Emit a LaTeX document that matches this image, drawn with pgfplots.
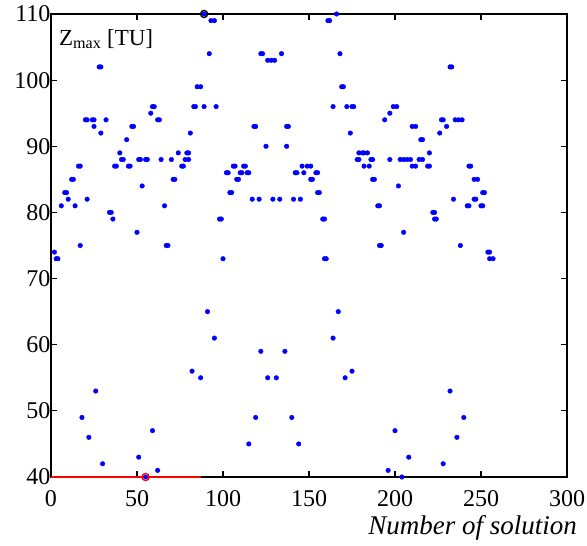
\documentclass[border=0pt]{standalone}
\usepackage{fontspec}
\setmainfont{Liberation Serif}
\usepackage{pgfplots}
\pgfplotsset{compat=1.18}
\begin{document}
\begin{tikzpicture}
\begin{axis}[name=ax, scale only axis, width=516pt, height=463pt,
  xmin=0, xmax=300, ymin=40, ymax=110,
  xtick={0,50,...,300}, ytick={40,50,...,110},
  tick align=inside, major tick length=6pt,
  axis line style={line width=1.6pt},
  every tick/.style={black, line width=1.2pt},
  ticklabel style={font=\rmfamily\fontsize{24}{26}\selectfont},
  /pgf/number format/assume math mode=true,
  xticklabel style={yshift=-10pt},
  yticklabel style={xshift=3pt},
  clip=false]
\addplot[only marks, mark=*, mark size=2.3pt, color=blue, mark options={draw=blue, fill=blue}] coordinates {
(2,74)(3,73)(4,73)
(6,81)(8,83)(9,83)(10,82)(12,85)(13,85)(14,81)
(16,87)(17,87)(17,75)
(20,94)(21,94)(21,82)
(24,94)(25,94)(25,93)
(28,102)(29,102)(29,92)
(32,94)
(34,80)(35,80)(36,79)
(37,87)(38,87)
(40,89)
(41,88)(42,88)
(44,91)
(45,87)(46,87)
(47,93)(48,93)
(50,77)
(51,88)(52,88)
(53,84)
(55,88)(56,88)
(58,95)
(59,96)(60,96)
(62,94)(63,94)
(64,88)
(66,81)
(67,75)(68,75)
(70,88)
(71,85)(72,85)
(74,89)
(76,87)(77,87)(78,88)
(79,89)(80,89)
(80,88)(81,92)
(82,56)(83,96)(84,96)
(85,99)(87,99)
(87,55)
(89,96)
(89,110)
(91,65)
(92,104)
(93,109)(95,109)
(95,61)
(96,96)
(98,79)(99,79)
(100,73)
(102,86)(103,86)
(104,83)(105,83)
(106,87)(107,87)
(108,85)(109,85)
(110,86)(111,86)
(112,87)(113,87)
(114,86)(115,86)
(115,45)
(117,82)
(118,93)(119,93)
(119,49)
(121,82)
(122,104)(123,104)
(122,59)
(125,90)
(126,103)(128,103)(130,103)
(126,55)(131,55)
(129,82)(133,82)
(134,104)
(136,59)
(137,90)
(137,93)(138,93)
(140,49)
(141,82)(145,82)
(142,86)(143,86)
(144,45)
(146,87)(149,87)(151,87)
(147,86)
(151,85)(152,85)
(154,86)(155,86)
(155,83)(156,83)
(158,79)(159,79)
(159,73)(160,73)
(161,109)(162,109)
(164,61)
(164,96)
(166,110)
(167,65)
(168,104)
(169,99)(170,99)
(171,55)
(172,96)
(174,92)
(175,96)(176,96)
(175,56)
(178,88)(179,88)
(179,89)(181,89)(182,89)(184,89)
(182,87)(185,87)
(186,88)(187,88)
(187,85)(188,85)
(190,81)(191,81)
(191,75)(192,75)
(194,94)
(196,41)
(197,95)
(197,88)
(199,96)(201,96)
(200,47)
(202,84)
(203,88)(205,88)(207,88)(209,88)
(204,40)
(205,77)
(208,43)
(210,93)(212,93)
(210,87)(212,87)
(214,88)(216,88)
(215,91)(216,91)
(219,87)(220,87)
(220,89)
(222,80)(223,80)
(223,79)(224,79)
(226,92)
(227,94)(228,94)
(228,42)
(230,93)
(232,102)(233,102)
(232,53)
(234,82)
(235,94)(237,94)(239,94)
(236,46)
(238,75)
(240,49)
(242,81)(243,81)
(243,87)(244,87)
(246,85)(248,85)
(246,82)(247,82)
(250,81)(251,81)
(251,83)(252,83)
(254,74)(255,74)
(255,73)(257,73)
(18,49)(22,46)(26,53)(30,42)(51,43)(55,40)(59,47)(62,41)
};
\addplot[red, line width=1.8pt] coordinates {(0,40) (87,40)};
\addplot[only marks, mark=o, mark size=3.6pt, red, mark options={line width=1.3pt}] coordinates {(55,40)};
\addplot[only marks, mark=o, mark size=3.6pt, black, mark options={line width=1.3pt}] coordinates {(89,110)};
\node[anchor=base west, font=\rmfamily\fontsize{23}{25}\selectfont, inner sep=0pt] at (axis cs:4.6,105.3) {Z\textsubscript{max} [TU]};
\end{axis}
\node[anchor=east, font=\rmfamily\fontsize{27}{29}\selectfont\itshape, inner sep=0pt] at ([xshift=10pt,yshift=-51pt]ax.south east) {Number of solution};
\pgfresetboundingbox
\path ([xshift=-51pt,yshift=-68pt]ax.south west) rectangle ([xshift=20pt,yshift=14pt]ax.north east);
\end{tikzpicture}
\end{document}
